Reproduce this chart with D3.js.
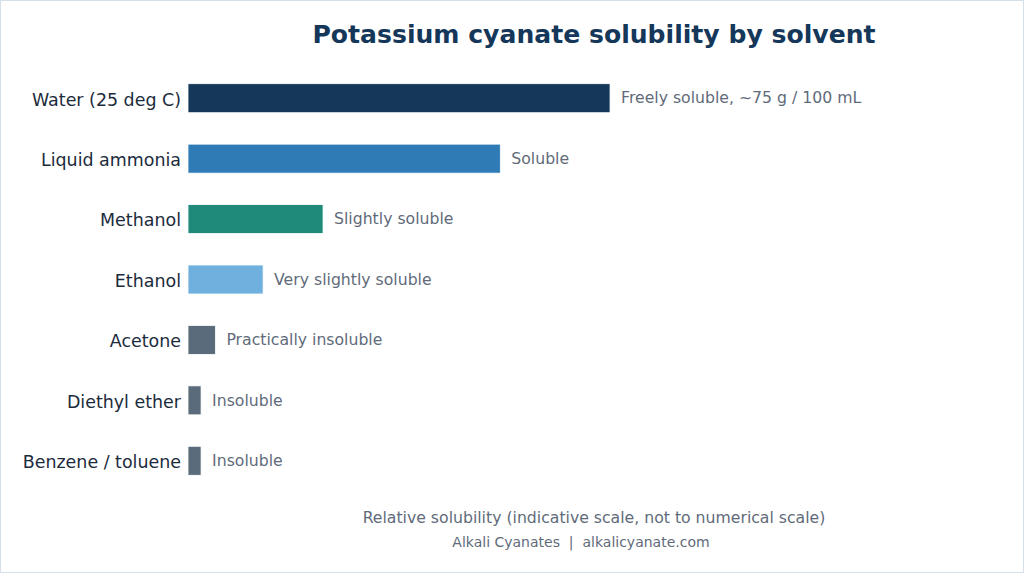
<!DOCTYPE html>
<html>
  <head>
    <meta charset="utf-8" />
    <script src="https://cdn.jsdelivr.net/npm/d3@7"></script>
    <style>
      body {
        margin: 0;
        background: #ffffff;
      }
      svg {
        display: block;
        font-family: "DejaVu Sans", sans-serif;
      }
    </style>
  </head>
  <body>
    <svg id="chart" width="1024" height="573"></svg>
    <script>
      // data, top to bottom
      const solvents = [
        "Water (25 deg C)",
        "Liquid ammonia",
        "Methanol",
        "Ethanol",
        "Acetone",
        "Diethyl ether",
        "Benzene / toluene",
      ];
      const relSolubility = [100, 74, 32, 17.8, 6.5, 3.1, 3.1];
      const notes = [
        "Freely soluble, ~75 g / 100 mL",
        "Soluble",
        "Slightly soluble",
        "Very slightly soluble",
        "Practically insoluble",
        "Insoluble",
        "Insoluble",
      ];
      const barColors = ["#14375a", "#2e7bb5", "#1f8a7a", "#70b0de", "#5a6b7b", "#5a6b7b", "#5a6b7b"];

      const W = 1024, H = 573;
      const plot = { left: 188, right: 1000, top: 68, bottom: 491 };

      const svg = d3.select("#chart");

      // outer frame
      svg.append("rect")
        .attr("x", 0.5).attr("y", 0.5)
        .attr("width", W - 1).attr("height", H - 1)
        .attr("fill", "#ffffff")
        .attr("stroke", "#d5e0ea");

      const x = d3.scaleLinear().domain([0, 192.4]).range([plot.left, plot.right]);
      const y = d3.scaleBand().domain(solvents).range([plot.top, plot.bottom]).paddingInner(0.52).paddingOuter(0.26);

      const rows = solvents.map((s, i) => ({ s, v: relSolubility[i], note: notes[i], c: barColors[i] }));

      svg.append("g")
        .selectAll("rect")
        .data(rows)
        .join("rect")
        .attr("x", x(0))
        .attr("y", d => y(d.s))
        .attr("width", d => x(d.v) - x(0))
        .attr("height", y.bandwidth())
        .attr("fill", d => d.c)
        .attr("stroke", "#ffffff")
        .attr("stroke-width", 0.8);

      // category labels (axis without line / ticks)
      const yAxis = svg.append("g")
        .attr("transform", `translate(${plot.left},0)`)
        .call(d3.axisLeft(y).tickSize(0).tickPadding(7));
      yAxis.select(".domain").remove();
      yAxis.selectAll("text")
        .attr("font-family", "DejaVu Sans")
        .attr("font-size", 17.45)
        .attr("fill", "#1c2b3c")
        .attr("dy", "0.42em");

      // value notes
      svg.append("g")
        .selectAll("text")
        .data(rows)
        .join("text")
        .attr("x", d => x(d.v) + 11)
        .attr("y", d => y(d.s) + y.bandwidth() / 2)
        .attr("dy", "0.33em")
        .attr("font-size", 15.7)
        .attr("fill", "#5f6b7a")
        .text(d => d.note);

      const mid = (plot.left + plot.right) / 2;

      svg.append("text")
        .attr("x", mid).attr("y", 43)
        .attr("text-anchor", "middle")
        .attr("font-size", 25.1)
        .attr("font-weight", "bold")
        .attr("fill", "#14375a")
        .text("Potassium cyanate solubility by solvent");

      svg.append("text")
        .attr("x", mid).attr("y", 523)
        .attr("text-anchor", "middle")
        .attr("font-size", 15.7)
        .attr("fill", "#5f6b7a")
        .text("Relative solubility (indicative scale, not to numerical scale)");

      svg.append("text")
        .attr("x", 581).attr("y", 547)
        .attr("text-anchor", "middle")
        .attr("font-size", 14)
        .attr("fill", "#5f6b7a")
        .attr("xml:space", "preserve")
        .style("white-space", "pre")
        .text("Alkali Cyanates  |  alkalicyanate.com");
    </script>
  </body>
</html>
